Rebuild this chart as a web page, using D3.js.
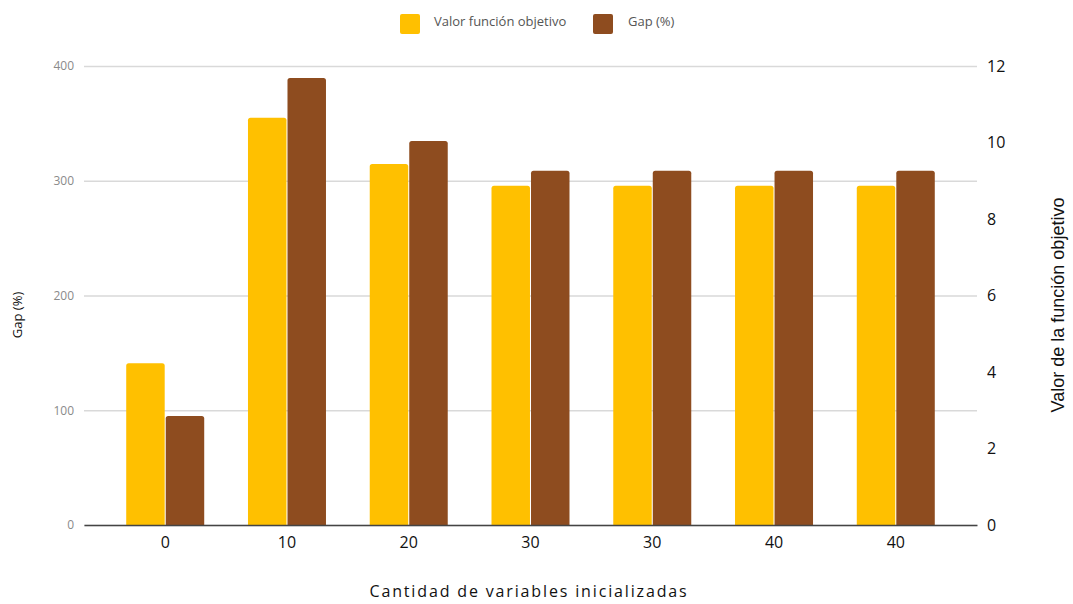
<!DOCTYPE html>
<html><head><meta charset="utf-8">
<script src="https://cdn.jsdelivr.net/npm/d3@7"></script>
<style>
body{margin:0;background:#fff;}
svg{display:block;}
</style></head>
<body>
<script>
const categories = ["0","10","20","30","30","40","40"];
const valorObjetivo = [4.23, 10.65, 9.44, 8.87, 8.87, 8.87, 8.87];
const gapPct = [95, 389.5, 334.6, 308.8, 308.8, 308.8, 308.8];
const leftTicks = [0,100,200,300,400];
const rightTicks = [0,2,4,6,8,10,12];
const seriesNames = ["Valor función objetivo","Gap (%)"];
const colors = ["#FFC000","#8E4C1F"];

const W=1073,H=604;
const m={left:84,right:96,top:66,bottom:79};
const svg=d3.select("body").append("svg").attr("width",W).attr("height",H);

const idx=categories.map((d,i)=>i);
const x=d3.scaleBand().domain(idx).range([m.left,W-m.right]).paddingInner(0).paddingOuter(0.167);
const yL=d3.scaleLinear().domain([0,400]).range([H-m.bottom,m.top]);
const yR=d3.scaleLinear().domain([0,12]).range([H-m.bottom,m.top]);

// gridlines
const gl=d3.axisLeft(yL).tickValues(leftTicks).tickSize(-(W-m.left-m.right)).tickFormat(d=>d).tickPadding(10);
const gL=svg.append("g").attr("transform",`translate(${m.left},0)`).call(gl);
gL.select(".domain").remove();
gL.selectAll(".tick line").attr("stroke","#d9d9d9").attr("stroke-width",1.3);
gL.selectAll(".tick text").attr("fill","#8a8a8a").style("font-family","'Open Sans',sans-serif").style("font-size","12px");

const gr=d3.axisRight(yR).tickValues(rightTicks).tickSize(0).tickPadding(10);
const gR=svg.append("g").attr("transform",`translate(${W-m.right},0)`).call(gr);
gR.select(".domain").remove();
gR.selectAll(".tick text").attr("fill","#111").style("font-family","'Open Sans',sans-serif").style("font-size","16px");

// bars
const sub=d3.scaleBand().domain([0,1]).range([0,78]).paddingInner(0.026);
const groups=svg.append("g").selectAll("g").data(idx).join("g")
  .attr("transform",i=>`translate(${x(i)+x.bandwidth()/2-39},0)`);
function barPath(x0,y0,w,h,r){
  return `M${x0},${y0+h}V${y0+r}Q${x0},${y0} ${x0+r},${y0}H${x0+w-r}Q${x0+w},${y0} ${x0+w},${y0+r}V${y0+h}Z`;
}
groups.append("path").attr("fill",colors[0])
  .attr("d",i=>{const yy=yR(valorObjetivo[i]);return barPath(sub(0),yy,sub.bandwidth(),yR(0)-yy,2.5);});
groups.append("path").attr("fill",colors[1])
  .attr("d",i=>{const yy=yL(gapPct[i]);return barPath(sub(1),yy,sub.bandwidth(),yL(0)-yy,2.5);});

// baseline
const gx=d3.axisBottom(x).tickSize(0).tickPadding(12).tickFormat(i=>categories[i]);
const gX=svg.append("g").attr("transform",`translate(0,${H-m.bottom})`).call(gx);
gX.select(".domain").attr("stroke","#444").attr("stroke-width",1.5);
gX.selectAll(".tick text").attr("fill","#111").style("font-family","'Open Sans',sans-serif").style("font-size","16px");

// titles
svg.append("text").attr("x",529).attr("y",597).attr("text-anchor","middle")
  .style("font-family","'Open Sans',sans-serif").style("font-size","16px").style("letter-spacing","1.85px").attr("fill","#111")
  .text("Cantidad de variables inicializadas");
svg.append("text").attr("transform","translate(22,315) rotate(-90)").attr("text-anchor","middle")
  .style("font-family","'Open Sans',sans-serif").style("font-size","13px").attr("fill","#111").text("Gap (%)");
svg.append("text").attr("transform","translate(1064,305) rotate(-90)").attr("text-anchor","middle")
  .style("font-family","'Liberation Sans',Arial,sans-serif").style("font-size","18px").attr("fill","#111").text("Valor de la función objetivo");

// legend
const leg=[{x:400,tx:434},{x:593,tx:628}];
leg.forEach((l,i)=>{
  svg.append("rect").attr("x",l.x).attr("y",14).attr("width",20).attr("height",20).attr("rx",2).attr("fill",colors[i]);
  svg.append("text").attr("x",l.tx).attr("y",23).attr("dominant-baseline","middle")
    .style("font-family","'Open Sans',sans-serif").style("font-size","13px").attr("fill","#555").text(seriesNames[i]);
});
</script>
</body></html>
